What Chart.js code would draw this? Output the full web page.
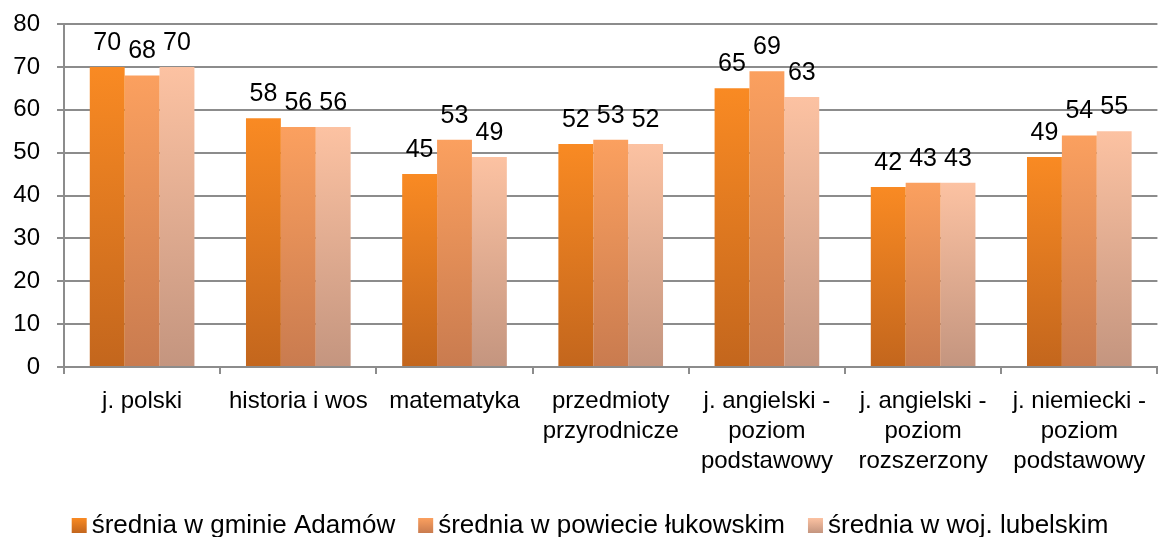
<!DOCTYPE html>
<html>
<head>
<meta charset="utf-8">
<script src="https://cdn.jsdelivr.net/npm/chart.js@4/dist/chart.umd.min.js"></script>
<style>
    html, body { margin: 0; padding: 0; background: #fff; }
    #wrap { width: 1158px; height: 537px; }
</style>
</head>
<body>
<div id="wrap"><canvas id="wynikiChart"></canvas></div>
<script>
// dane
const kategorie = [
    'j. polski',
    'historia i wos',
    'matematyka',
    ['przedmioty', 'przyrodnicze'],
    ['j. angielski -', 'poziom', 'podstawowy'],
    ['j. angielski -', 'poziom', 'rozszerzony'],
    ['j. niemiecki -', 'poziom', 'podstawowy']
];
const sredniaGmina = [70, 58, 45, 52, 65, 42, 49];
const sredniaPowiat = [68, 56, 53, 53, 69, 43, 54];
const sredniaWojewodztwo = [70, 56, 49, 52, 63, 43, 55];
const etykietySerii = ['średnia w gminie Adamów', 'średnia w powiecie łukowskim', 'średnia w woj. lubelskim'];

const kolory = [
    { gora: '#f98a23', dol: '#c3661d' },
    { gora: '#fba05f', dol: '#c97b4f' },
    { gora: '#fcc2a2', dol: '#c4957f' }
];

const czcionka = "'Liberation Sans', Arial, sans-serif";

// gradient osobno dla każdego słupka (od wierzchołka do podstawy)
function gradientSlupka(idx) {
    return function (ctx) {
        const chart = ctx.chart;
        const y = chart.scales.y;
        if (!y || ctx.parsed === undefined) return kolory[idx].gora;
        const top = y.getPixelForValue(ctx.parsed.y);
        const bottom = y.getPixelForValue(0);
        if (!isFinite(top) || !isFinite(bottom) || top === bottom) return kolory[idx].gora;
        const g = chart.ctx.createLinearGradient(0, top, 0, bottom);
        g.addColorStop(0, kolory[idx].gora);
        g.addColorStop(1, kolory[idx].dol);
        return g;
    };
}

// etykiety wartości nad słupkami
const etykietyWartosci = {
    id: 'etykietyWartosci',
    afterDatasetsDraw(chart) {
        const c = chart.ctx;
        c.save();
        c.font = '25px ' + czcionka;
        c.fillStyle = '#000';
        c.textAlign = 'center';
        c.textBaseline = 'alphabetic';
        chart.data.datasets.forEach(function (ds, i) {
            chart.getDatasetMeta(i).data.forEach(function (bar, j) {
                c.fillText(ds.data[j], bar.x, bar.y - 17);
            });
        });
        c.restore();
    }
};

// legenda jak w Excelu: mały kwadrat tuż przy tekście
const legendaExcel = {
    id: 'legendaExcel',
    afterDraw(chart) {
        const c = chart.ctx;
        const box = 15, gapText = 5, gapItem = 23;
        const baseY = chart.height - 4;
        c.save();
        c.font = '26px ' + czcionka;
        c.textBaseline = 'alphabetic';
        c.textAlign = 'left';
        const widths = chart.data.datasets.map(function (ds) { return c.measureText(ds.label).width; });
        let total = 0;
        widths.forEach(function (w, i) { total += box + gapText + w + (i > 0 ? gapItem : 0); });
        let x = (chart.width - total) / 2 + 11;
        chart.data.datasets.forEach(function (ds, i) {
            const g = c.createLinearGradient(0, baseY - box, 0, baseY);
            g.addColorStop(0, kolory[i].gora);
            g.addColorStop(1, kolory[i].dol);
            c.fillStyle = g;
            c.fillRect(x, baseY - box, box, box);
            c.fillStyle = '#000';
            c.fillText(ds.label, x + box + gapText, baseY);
            x += box + gapText + widths[i] + gapItem;
        });
        c.restore();
    }
};

const ctx = document.getElementById('wynikiChart').getContext('2d');
new Chart(ctx, {
    type: 'bar',
    data: {
        labels: kategorie,
        datasets: [
            { label: etykietySerii[0], data: sredniaGmina, backgroundColor: gradientSlupka(0) },
            { label: etykietySerii[1], data: sredniaPowiat, backgroundColor: gradientSlupka(1) },
            { label: etykietySerii[2], data: sredniaWojewodztwo, backgroundColor: gradientSlupka(2) }
        ]
    },
    options: {
        responsive: true,
        maintainAspectRatio: false,
        animation: false,
        datasets: {
            bar: { barPercentage: 1, categoryPercentage: 0.67 }
        },
        layout: {
            padding: { top: 0, right: 0, left: 0, bottom: 42 }
        },
        plugins: {
            legend: { display: false },
            tooltip: { enabled: false },
            title: { display: false }
        },
        scales: {
            x: {
                grid: {
                    offset: true,
                    drawOnChartArea: false,
                    tickLength: 7,
                    color: '#8c8c8c',
                    lineWidth: 2
                },
                border: { color: '#8c8c8c', width: 2 },
                ticks: {
                    color: '#000',
                    font: { family: czcionka, size: 24, lineHeight: 1.25 },
                    padding: 12,
                    maxRotation: 0,
                    autoSkip: false
                },
                afterFit: function (axis) { axis.height = 128; }
            },
            y: {
                min: 0,
                max: 80,
                grid: {
                    color: '#8c8c8c',
                    lineWidth: 2,
                    tickLength: 7
                },
                border: { color: '#8c8c8c', width: 2 },
                ticks: {
                    stepSize: 10,
                    color: '#000',
                    font: { family: czcionka, size: 24 },
                    padding: 17
                },
                afterFit: function (axis) {
                    axis.width = 64;
                    axis.paddingTop = 24;
                    axis.paddingBottom = 0;
                }
            }
        }
    },
    plugins: [etykietyWartosci, legendaExcel]
});
</script>
</body>
</html>
